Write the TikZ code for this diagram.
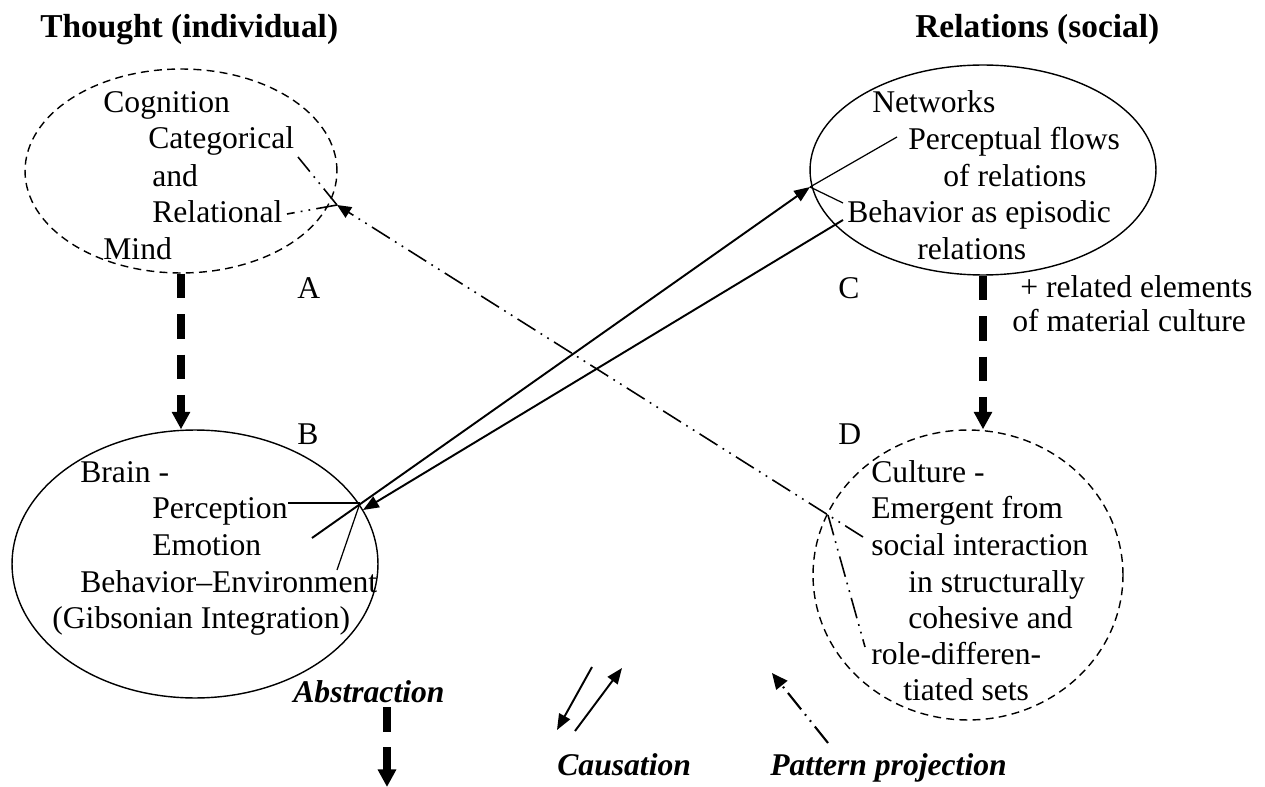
\documentclass[tikz,border=0pt]{standalone}
\usepackage{fontspec}
\setmainfont{Liberation Serif}
\usetikzlibrary{arrows.meta,shapes.geometric}

\begin{document}
\begin{tikzpicture}[x=0.02cm,y=-0.02cm,
	txt/.style={anchor=base west,inner sep=0pt,font=\fontsize{18}{21}\selectfont},
	head/.style={txt,font=\fontsize{19}{22}\selectfont\bfseries},
	key/.style={txt,font=\fontsize{18}{21}\selectfont\bfseries\itshape},
	oval/.style={ellipse,draw,line width=0.8pt,inner sep=0pt},
	dashoval/.style={oval,dash pattern=on 4.5pt off 3pt},
	abstr/.style={line width=4pt,dash pattern=on 14pt off 9pt,-{Triangle[length=10pt,width=10pt]}},
	cause/.style={line width=1.1pt,-{Triangle[length=9pt,width=7pt]}},
	proj/.style={line width=0.9pt,dash pattern=on 12pt off 3.5pt on 1pt off 3.5pt on 1pt off 3.5pt},
	link/.style={line width=0.7pt}]
	\useasboundingbox (0,0) rectangle (1265,787);

	\node[head] (thought) at (40,38) {Thought (individual)};
	\node[head] (relations) at (915,38) {Relations (social)};

	\node[dashoval,minimum width=6.24cm,minimum height=4.08cm] (ellA) at (181,171) {};
	\node[oval,minimum width=6.92cm,minimum height=4.2cm] (ellC) at (983,170) {};
	\node[oval,minimum width=7.32cm,minimum height=5.36cm] (ellB) at (195,564) {};
	\node[dashoval,minimum width=6.2cm,minimum height=5.8cm] (ellD) at (968,575) {};

	\node[txt] (tcog) at (103,113) {Cognition};
	\node[txt] (tcat) at (148,149) {Categorical};
	\node[txt] (tand) at (152,187) {and};
	\node[txt] (trel) at (152,223) {Relational};
	\node[txt] (tmind) at (103,260) {Mind};

	\node[txt] (cnet) at (872,113) {Networks};
	\node[txt] (cperc) at (908,150) {Perceptual flows};
	\node[txt] (cof) at (943,187) {of relations};
	\node[txt] (cbeh) at (847,223) {Behavior as episodic};
	\node[txt] (crel) at (917,260) {relations};

	\node[txt] (bbrain) at (80,482) {Brain -};
	\node[txt] (bperc) at (152,518) {Perception};
	\node[txt] (bemo) at (152,555) {Emotion};
	\node[txt] (bbeh) at (80,592) {Behavior–Environment};
	\node[txt] (bgib) at (52,628) {(Gibsonian Integration)};

	\node[txt] (dcul) at (871,482) {Culture -};
	\node[txt] (demg) at (871,518) {Emergent from};
	\node[txt] (dsoc) at (871,555) {social interaction};
	\node[txt] (dstr) at (908,592) {in structurally};
	\node[txt] (dcoh) at (908,628) {cohesive and};
	\node[txt] (drole) at (871,664) {role-differen-};
	\node[txt] (dtia) at (903,700) {tiated sets};

	\node[txt] (labA) at (297,298) {A};
	\node[txt] (labB) at (297,444) {B};
	\node[txt] (labC) at (838,298) {C};
	\node[txt] (labD) at (838,444) {D};
	\node[txt] (plus) at (1020,297) {+ related elements};
	\node[txt] (mat) at (1012,332) {of material culture};

	\draw[abstr] (ellA.south) -- (ellA.south |- ellB.north);
	\draw[abstr] (ellC.south) -- (ellC.south |- ellD.north);

	\coordinate (bx) at (360,503);
	\coordinate (cx) at (810,187);
	\coordinate (ax) at (337,205);
	\coordinate (dx) at (828,515);
	\coordinate (bfrom) at (312,538);
	\coordinate (btip) at (363,510);
	\coordinate (cfrom) at (843,220);
	\coordinate (benv) at (337,570);
	\coordinate (cpend) at (897,137);
	\coordinate (cbend) at (843,203);
	\coordinate (acat) at (298,157);
	\coordinate (arel) at (287,214);
	\coordinate (dfrom) at (863,537);
	\coordinate (dend) at (865,647);

	\draw[cause] (bfrom) -- (cx);
	\draw[cause] (cfrom) -- (btip);
	\draw[link] (bx) -- (bx -| bperc.east);
	\draw[link] (bx) -- (benv);
	\draw[link] (cx) -- (cpend);
	\draw[link] (cx) -- (cbend);

	\draw[proj,-{Triangle[length=8pt,width=7pt]}] (dfrom) -- (ax);
	\draw[proj] (ax) -- (acat);
	\draw[proj] (ax) -- (arel);
	\draw[proj] (dx) -- (dend);

	\node[key] (kabs) at (293,702) {Abstraction};
	\node[key] (kcau) at (557,775) {Causation};
	\node[key] (kpat) at (770,775) {Pattern projection};
	\coordinate (abs1) at (387,707);
	\coordinate (abs2) at (387,787);
	\coordinate (cau1) at (592,667);
	\coordinate (cau2) at (557,730);
	\coordinate (cau3) at (575,731);
	\coordinate (cau4) at (622,668);
	\coordinate (pat1) at (828,743);
	\coordinate (pat2) at (772,673);
	\draw[abstr] (abs1) -- (abs2);
	\draw[cause] (cau1) -- (cau2);
	\draw[cause] (cau3) -- (cau4);
	\draw[proj,line width=1.2pt,-{Triangle[length=9pt,width=8pt]}] (pat1) -- (pat2);
\end{tikzpicture}
\end{document}
